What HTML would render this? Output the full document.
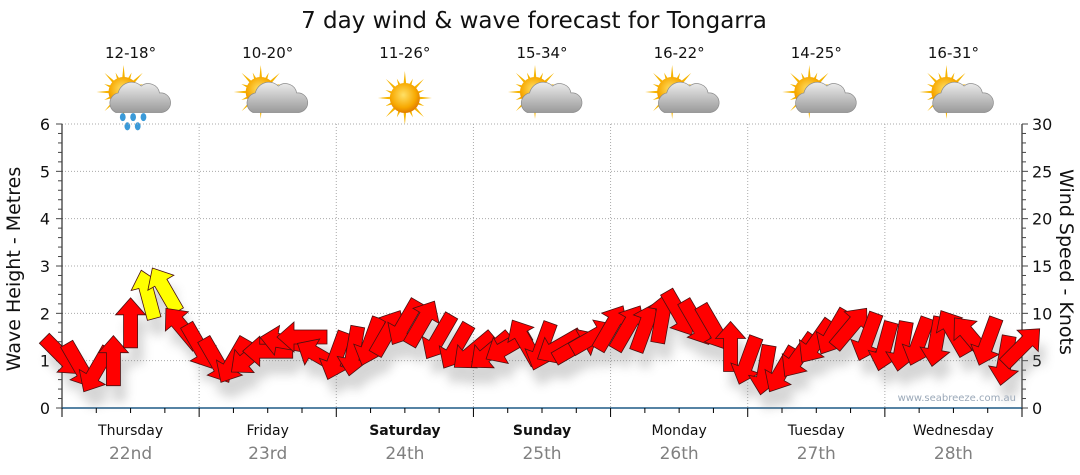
<!DOCTYPE html>
<html><head><meta charset="utf-8">
<style>
body{margin:0;background:#fff;font-family:"DejaVu Sans","Liberation Sans",sans-serif;}
svg{display:block}
</style></head>
<body>
<svg id="chart" width="1080" height="475" viewBox="0 0 1080 475" xmlns="http://www.w3.org/2000/svg" font-family="DejaVu Sans, Liberation Sans, sans-serif">
<defs>
<filter id="shadow" x="-50%" y="-50%" width="200%" height="200%"><feGaussianBlur stdDeviation="5"/></filter>
<radialGradient id="sunG" cx="45%" cy="40%" r="60%"><stop offset="0" stop-color="#ffe066"/><stop offset="0.7" stop-color="#f7a800"/><stop offset="1" stop-color="#e07b00"/></radialGradient>
<linearGradient id="cloudG" x1="0" y1="0" x2="0" y2="1"><stop offset="0" stop-color="#ececec"/><stop offset="1" stop-color="#9a9a9a"/></linearGradient>
</defs>
<text x="534" y="28" text-anchor="middle" font-size="23" fill="#111">7 day wind &amp; wave forecast for Tongarra</text>
<g id="header"></g>
<g id="grid"></g>
<g id="axes"></g>
<g id="arrows"></g>
<text x="1016" y="401" text-anchor="end" font-size="10" fill="#9aa8b8">www.seabreeze.com.au</text>
<text transform="translate(20,269) rotate(-90)" text-anchor="middle" font-size="19" fill="#111">Wave Height - Metres</text>
<text transform="translate(1060,262) rotate(90)" text-anchor="middle" font-size="19" fill="#111">Wind Speed - Knots</text>
</svg>
<script>
const days = ["Thursday","Friday","Saturday","Sunday","Monday","Tuesday","Wednesday"];
const dates = ["22nd","23rd","24th","25th","26th","27th","28th"];
const boldDays = [false,false,true,true,false,false,false];
const temps = ["12-18°","10-20°","11-26°","15-34°","16-22°","14-25°","16-31°"];
const icons = ["rain","cloud","sun","cloud","cloud","cloud","cloud"];
const waveTicks = [0,1,2,3,4,5,6];
const windTicks = [0,5,10,15,20,25,30];
// wind every 3 hours from Thursday 00:00
const windSpeed = [5.5,4.5,4,5,9,12,12.5,8.5, 6.5,5,5,5.5,6,7,7.5,5.5, 5.5,6,7,8,9,9,7.5,6.5, 6,6,6.5,7,6.5,6.5,6.5,7.5, 8.5,8.5,8.5,9.5,10,9,8.5,6.5, 5,4,4,5.5,7,8,8.5,7.5, 6.5,6.5,7,7,8,7.5,7,5,6.5];
const windDir = [135,150,210,0,0,345,330,320, 150,150,210,230,270,280,270,300, 200,190,200,30,210,30,210,210, 230,230,240,330,200,240,60,60, 30,30,20,10,150,150,150,0, 200,190,210,215,215,210,40,200, 195,190,200,190,330,320,200,190,45];

const NS="http://www.w3.org/2000/svg";
const X0=62,X1=1022,Y0=408,Y1=124;
const xHour=h=>X0+(X1-X0)*h/168;
const yWave=v=>Y0-(Y0-Y1)*v/6;
const yWind=v=>Y0-(Y0-Y1)*v/30;
function mk(tag,attrs,parent){const e=document.createElementNS(NS,tag);for(const k in attrs)e.setAttribute(k,attrs[k]);parent.appendChild(e);return e;}

const grid=document.getElementById('grid');
waveTicks.forEach(v=>{if(v>0){const l=mk('line',{x1:X0,x2:X1,y1:yWave(v),y2:yWave(v),stroke:'#aaa','stroke-dasharray':'1,2'},grid);

}});
for(let d=1;d<7;d++){const l=mk('line',{x1:xHour(d*24),x2:xHour(d*24),y1:Y1,y2:Y0,stroke:'#aaa','stroke-dasharray':'1,2'},grid);

}

const axes=document.getElementById('axes');
mk('line',{x1:X0,x2:X0,y1:Y1,y2:Y0,stroke:'#000'},axes);
mk('line',{x1:X1,x2:X1,y1:Y1,y2:Y0,stroke:'#000'},axes);
mk('line',{x1:X0,x2:X1,y1:Y0,y2:Y0,stroke:'#1f5a85','stroke-width':1.5},axes);
for(let i=0;i<=30;i++){const y=yWave(i/5);const maj=i%5==0;
 mk('line',{x1:X0-(maj?6:4),x2:X0,y1:y,y2:y,stroke:'#444'},axes);
 mk('line',{x1:X1,x2:X1+(maj?6:4),y1:y,y2:y,stroke:'#444'},axes);}
waveTicks.forEach(v=>{const t=mk('text',{x:X0-12,y:yWave(v)+6,'text-anchor':'end','font-size':16,fill:'#111'},axes);t.textContent=v;

});
windTicks.forEach(v=>{const t=mk('text',{x:X1+10,y:yWind(v)+6,'font-size':16,fill:'#111'},axes);t.textContent=v;

});
for(let h=0;h<=168;h+=6){const maj=h%24==0;mk('line',{x1:xHour(h),x2:xHour(h),y1:Y0,y2:Y0+(maj?9:5),stroke:'#000'},axes);}
days.forEach((d,i)=>{const cx=xHour(i*24+12);
 const t=mk('text',{x:cx,y:435,'text-anchor':'middle','font-size':14,fill:'#111','font-weight':boldDays[i]?'bold':'normal'},axes);t.textContent=d;
 
 
 const t2=mk('text',{x:cx,y:459,'text-anchor':'middle','font-size':17,fill:'#808080'},axes);t2.textContent=dates[i];
 
 });

// header icons
const header=document.getElementById('header');
function drawIcon(g,kind){
 const sun=mk('g',{},g);
 for(let a=0;a<360;a+=22.5){const r=a*Math.PI/180;const long=(a/22.5)%2==0;const L=long?27:21;
  mk('polygon',{points:`${Math.cos(r)*L},${Math.sin(r)*L} ${Math.cos(r+0.13)*12},${Math.sin(r+0.13)*12} ${Math.cos(r-0.13)*12},${Math.sin(r-0.13)*12}`,fill:'#f6b400'},sun);}
 mk('circle',{cx:0,cy:0,r:15,fill:'url(#sunG)'},sun);
 if(kind==='sun'){sun.setAttribute('transform','translate(0,3)');return;}
 sun.setAttribute('transform','translate(-7,-3)');
 const c=mk('g',{transform:'translate(6,6) scale(1.15)'},g);
 mk('path',{d:'M-18,10 a9,9 0 0 1 2,-17 a12,12 0 0 1 20,-6 a10,10 0 0 1 16,6 a8,8 0 0 1 2,17 z',fill:'url(#cloudG)',stroke:'#8a8a8a','stroke-width':0.6},c);
 if(kind==='rain'){[[-12,14],[-3,14],[6,14],[-8,22],[1,22]].forEach(p=>mk('ellipse',{cx:p[0],cy:p[1],rx:2.5,ry:3.5,fill:'#3a9ad9'},c));}
}
temps.forEach((t,i)=>{const cx=xHour(i*24+12);
 const tx=mk('text',{x:cx,y:58,'text-anchor':'middle','font-size':15,fill:'#111'},header);tx.textContent=t;
 
 
 const g=mk('g',{transform:`translate(${cx},95)`},header);
 
 
 drawIcon(g,icons[i]);});

// arrows
const ag=document.getElementById('arrows');
const shadowG=mk('g',{filter:'url(#shadow)',opacity:0.3},ag);
const arrowPath='M0,-25 L15,-8 L7,-8 L7,25 L-7,25 L-7,-8 L-15,-8 Z';
windSpeed.forEach((s,i)=>{const x=xHour(i*3),y=yWind(s);
 mk('path',{d:arrowPath,fill:'#777',transform:`translate(${x+6},${y+16}) rotate(${windDir[i]})`},shadowG);});
windSpeed.forEach((s,i)=>{const x=xHour(i*3),y=yWind(s);
 const p=mk('path',{d:arrowPath,fill:s>=12?'#ffff00':'#ff0000',stroke:'#4a1010','stroke-width':0.8,transform:`translate(${x},${y}) rotate(${windDir[i]})`},ag);
 
 });
</script>
</body></html>
